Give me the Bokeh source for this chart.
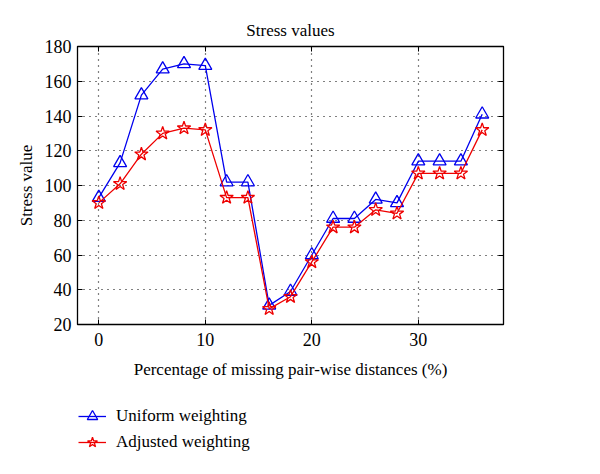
from bokeh.plotting import figure
from bokeh.layouts import column
from bokeh.models import Legend, LegendItem, LinearAxis, FixedTicker, ColumnDataSource, Range1d
from bokeh.embed import file_html
from bokeh.resources import INLINE

missing_pct = [0, 2, 4, 6, 8, 10, 12, 14, 16, 18, 20, 22, 24, 26, 28, 30, 32, 34, 36]
uniform = [93, 113, 152, 167, 170, 169, 102, 102, 31, 39, 60, 81, 81, 92, 90, 114, 114, 114, 141]
adjusted = [90, 101, 118, 130, 133, 132, 93, 93, 29, 36, 56, 76, 76, 86, 84, 107, 107, 107, 132]
x_ticks = [0, 10, 20, 30]
y_ticks = [20, 40, 60, 80, 100, 120, 140, 160, 180]
series_names = ["Uniform weighting", "Adjusted weighting"]

FONT = "Liberation Serif"
BLUE = "#0000ee"
RED = "#ee0000"

src = ColumnDataSource(dict(x=missing_pct, u=uniform, a=adjusted))

p = figure(frame_width=426, frame_height=278, output_backend="svg", toolbar_location=None,
           x_range=Range1d(-2, 38), y_range=Range1d(20, 180),
           min_border_left=77, min_border_right=80, min_border_top=46, min_border_bottom=64,
           title="Stress values")
p.title.align = "center"
p.title.text_font = FONT
p.title.text_font_style = "normal"
p.title.text_font_size = "17px"
p.title.text_color = "black"
p.title.standoff = 13
p.outline_line_color = "black"
p.outline_line_alpha = 1
p.outline_line_width = 1.3

for g in (p.xgrid, p.ygrid):
    g.grid_line_color = "black"
    g.grid_line_dash = "1 5"
    g.grid_line_width = 1.2
p.xgrid.ticker = FixedTicker(ticks=x_ticks)
p.ygrid.ticker = FixedTicker(ticks=y_ticks)

def style_axis(ax, labels=True):
    ax.major_tick_in = 5
    ax.major_tick_out = 0
    ax.minor_tick_line_color = None
    ax.axis_line_color = "black"
    ax.major_tick_line_color = "black"
    ax.major_label_text_font = FONT
    ax.major_label_text_font_size = "18px"
    ax.major_label_text_color = "black" if labels else None
    ax.axis_label_text_font = FONT
    ax.axis_label_text_font_size = "17px"
    ax.axis_label_text_font_style = "normal"
    ax.axis_label_text_color = "black"

p.xaxis.ticker = FixedTicker(ticks=x_ticks)
p.yaxis.ticker = FixedTicker(ticks=y_ticks)
p.xaxis.axis_label = "Percentage of missing pair-wise distances (%)"
p.yaxis.axis_label = "Stress value"
style_axis(p.xaxis[0])
style_axis(p.yaxis[0])
p.xaxis[0].major_label_standoff = 8
p.yaxis[0].major_label_standoff = 6
p.xaxis[0].axis_label_standoff = 11
p.yaxis[0].axis_label_standoff = 6

top = LinearAxis(ticker=FixedTicker(ticks=x_ticks))
style_axis(top, labels=False)
top.major_label_text_font_size = "0px"
top.major_label_standoff = 0
p.add_layout(top, "above")
right = LinearAxis(ticker=FixedTicker(ticks=y_ticks))
style_axis(right, labels=False)
right.major_label_text_font_size = "0px"
right.major_label_standoff = 0
p.add_layout(right, "right")

p.line("x", "u", source=src, color=BLUE, line_width=1.3)
p.scatter("x", "u", source=src, marker="triangle", size=13, fill_color=None,
          line_color=BLUE, line_width=1.3)
p.line("x", "a", source=src, color=RED, line_width=1.3)
p.scatter("x", "a", source=src, marker="star", size=14, fill_color=None,
          line_color=RED, line_width=1.3)

# Legend panel below the chart (renderers hidden; they only supply legend glyphs)
p2 = figure(width=584, height=80, output_backend="svg", toolbar_location=None,
            min_border=0, x_axis_type=None, y_axis_type=None,
            x_range=Range1d(-2, 38), y_range=Range1d(20, 180))
p2.outline_line_color = None
p2.xgrid.visible = False
p2.ygrid.visible = False
lu = p2.line("x", "u", source=src, color=BLUE, line_width=1.3, visible=False)
mu = p2.scatter("x", "u", source=src, marker="triangle", size=11, fill_color=None,
                line_color=BLUE, line_width=1.3, visible=False)
la = p2.line("x", "a", source=src, color=RED, line_width=1.3, visible=False)
ma = p2.scatter("x", "a", source=src, marker="star", size=12, fill_color=None,
                line_color=RED, line_width=1.3, visible=False)

legend = Legend(items=[LegendItem(label=series_names[0], renderers=[lu, mu]),
                       LegendItem(label=series_names[1], renderers=[la, ma])],
                location=(1, 13), orientation="vertical")
legend.border_line_color = None
legend.background_fill_alpha = 0
legend.label_text_font = FONT
legend.label_text_font_size = "17px"
legend.label_text_color = "black"
legend.glyph_width = 28
legend.label_height = 26
legend.glyph_height = 26
legend.spacing = 0
legend.padding = 0
legend.margin = 0
legend.label_standoff = 10
p2.add_layout(legend)

layout = column(p, p2, spacing=0)
open("out.html", "w").write(file_html(layout, INLINE))
